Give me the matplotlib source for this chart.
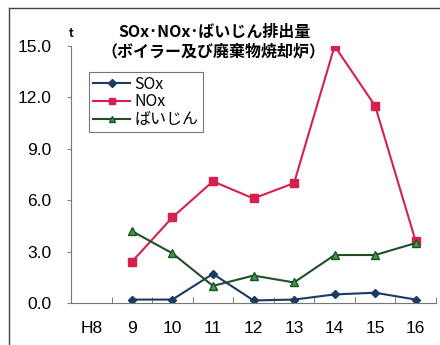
import numpy as np
import matplotlib.pyplot as plt
from matplotlib.lines import Line2D

plt.rcParams['font.family'] = ['Noto Sans CJK JP', 'DejaVu Sans']

YEARS = ['H8', '9', '10', '11', '12', '13', '14', '15', '16']
SOX = [np.nan, 0.2, 0.2, 1.7, 0.15, 0.2, 0.5, 0.6, 0.2]
NOX = [np.nan, 2.4, 5.0, 7.1, 6.1, 7.0, 15.0, 11.5, 3.6]
DUST = [np.nan, 4.2, 2.9, 1.0, 1.6, 1.2, 2.8, 2.8, 3.5]
Y_TICKS = [0.0, 3.0, 6.0, 9.0, 12.0, 15.0]

fig = plt.figure(figsize=(4.4, 3.45), dpi=100)
ax = fig.add_axes([71 / 440, 1 - 303 / 345, 365 / 440, 257 / 345])

x = np.arange(len(YEARS))
ax.plot(x, SOX, color='#1d3a63', lw=1.5, marker='D', ms=4.5, label='SOx')
ax.plot(x, NOX, color='#d6204e', lw=1.5, marker='s', ms=5.5, label='NOx')
ax.plot(x, DUST, color='#1f4f2a', lw=1.5, marker='^', ms=6,
        mfc='#3d9a45', mec='#1f4f2a', label='ばいじん')

ax.set_xlim(-0.5, len(YEARS) - 0.5)
ax.set_ylim(0, 15)
ax.set_yticks(Y_TICKS)
ax.set_yticklabels(['%.1f' % v for v in Y_TICKS])
ax.set_xticks(x)
ax.set_xticklabels(YEARS)
for lab in ax.get_xticklabels() + ax.get_yticklabels():
    lab.set_fontfamily('Liberation Sans')
    lab.set_fontsize(12.5)
ax.tick_params(axis='x', length=0, pad=13)
ax.tick_params(axis='y', length=3, color='#888888', pad=11)
ax.set_xticks(np.arange(len(YEARS)) + 0.5, minor=True)
ax.tick_params(axis='x', which='minor', direction='in', length=4, color='#666666')

for side in ['top', 'right']:
    ax.spines[side].set_visible(False)
ax.spines['left'].set_color('#777777')
ax.spines['bottom'].set_color('#777777')

ax.text(-0.5, 15.35, 't', fontsize=8, fontweight='bold', ha='center', va='bottom')

fig.text(0.487, 0.908, 'SOx･NOx･ばいじん排出量', ha='center', va='center',
         fontsize=11.5, fontweight='bold')
fig.text(0.485, 0.85, '（ボイラー及び廃棄物焼却炉）', ha='center', va='center',
         fontsize=11.5, fontweight='bold')

leg = ax.legend(loc='upper left', bbox_to_anchor=(0.05, 0.9), fontsize=11.5,
                frameon=True, fancybox=False, edgecolor='#555555',
                handlelength=2.3, handletextpad=0.3, labelspacing=0.05,
                borderpad=0.25, borderaxespad=0, markerscale=0.8)
leg.get_frame().set_linewidth(0.8)

# outer frame of the scanned chart
fig.add_artist(Line2D([9 / 440, 9 / 440], [0, 1 - 8 / 345], color='#444444', lw=1,
                      transform=fig.transFigure))
fig.add_artist(Line2D([9 / 440, 1], [1 - 8 / 345, 1 - 8 / 345], color='#444444', lw=1,
                      transform=fig.transFigure))

fig.savefig('out.png', dpi=100)
